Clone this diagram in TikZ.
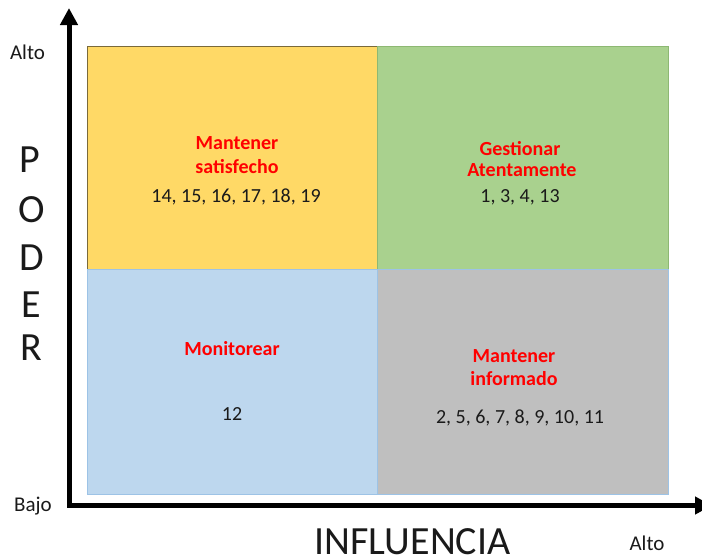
\documentclass[tikz,border=0pt]{standalone}
\usepackage{fontspec}
\setmainfont{Carlito}
\usetikzlibrary{arrows.meta}
\definecolor{qyellow}{HTML}{FFD966}
\definecolor{qgreen}{HTML}{A9D18E}
\definecolor{qblue}{HTML}{BDD7EE}
\definecolor{qgray}{HTML}{BFBFBF}
\definecolor{byellow}{HTML}{7A6A3A}
\definecolor{bgreen}{HTML}{8DB873}
\definecolor{bblue}{HTML}{9DC3E6}
\definecolor{txt}{HTML}{1A1A1A}
\begin{document}
\begin{tikzpicture}[x=1pt,y=-1pt,
  quad/.style={line width=0.8pt},
  title/.style={anchor=base,text=red,font=\bfseries\fontsize{20}{24}\selectfont,inner sep=0pt},
  nums/.style={anchor=base,text=txt,font=\fontsize{20}{24}\selectfont,inner sep=0pt},
  lab/.style={anchor=base,text=txt,font=\fontsize{21}{25}\selectfont,inner sep=0pt},
  big/.style={anchor=base,text=txt,font=\fontsize{40}{44}\selectfont,inner sep=0pt},
  axis/.style={line width=5pt,line join=miter,{Triangle[width=17pt,length=17pt]}-{Triangle[width=17pt,length=17pt]}}
]
\clip (0,0) rectangle (702,558);
\fill[white] (0,0) rectangle (702,558);
% quadrants
\filldraw[quad,fill=qyellow,draw=byellow] (87.5,46.5) rectangle (377.5,269.5);
\filldraw[quad,fill=qgreen,draw=bgreen] (377.5,46.5) rectangle (668,269.5);
\filldraw[quad,fill=qblue,draw=bblue] (87.5,269.5) rectangle (377.5,494.5);
\filldraw[quad,fill=qgray,draw=bblue] (377.5,269.5) rectangle (668,494.5);
% axes
\coordinate (ytip) at (69,8);
\coordinate (corner) at (69,505.5);
\coordinate (xtip) at (712,505.5);
\draw[axis] (ytip) -- (corner) -- (xtip);
% quadrant texts
\node[title] (t1a) at (237,149.5) {Mantener};
\node[title] (t1b) at (237,173) {satisfecho};
\node[nums] (n1) at (236,202) {14, 15, 16, 17, 18, 19};
\node[title] (t2a) at (520,155) {Gestionar};
\node[title] (t2b) at (522,176) {Atentamente};
\node[nums] (n2) at (520,202) {1, 3, 4, 13};
\node[title] (t3a) at (232,355) {Monitorear};
\node[nums] (n3) at (232,420) {12};
\node[title] (t4a) at (514,362) {Mantener};
\node[title] (t4b) at (514,385.5) {informado};
\node[nums] (n4) at (520,423.5) {2, 5, 6, 7, 8, 9, 10, 11};
% axis labels
\node[lab] (altoy) at (27.5,59.5) {Alto};
\node[lab] (bajo) at (33,511) {Bajo};
\node[lab] (altox) at (647,550) {Alto};
\node[big] (p) at (30,172) {P};
\node[big] (o) at (32,222.5) {O};
\node[big] (d) at (32,270.5) {D};
\node[big] (e) at (31,317) {E};
\node[big] (r) at (31,360.5) {R};
\node[big] (infl) at (412.5,554) {INFLUENCIA};
\end{tikzpicture}
\end{document}
